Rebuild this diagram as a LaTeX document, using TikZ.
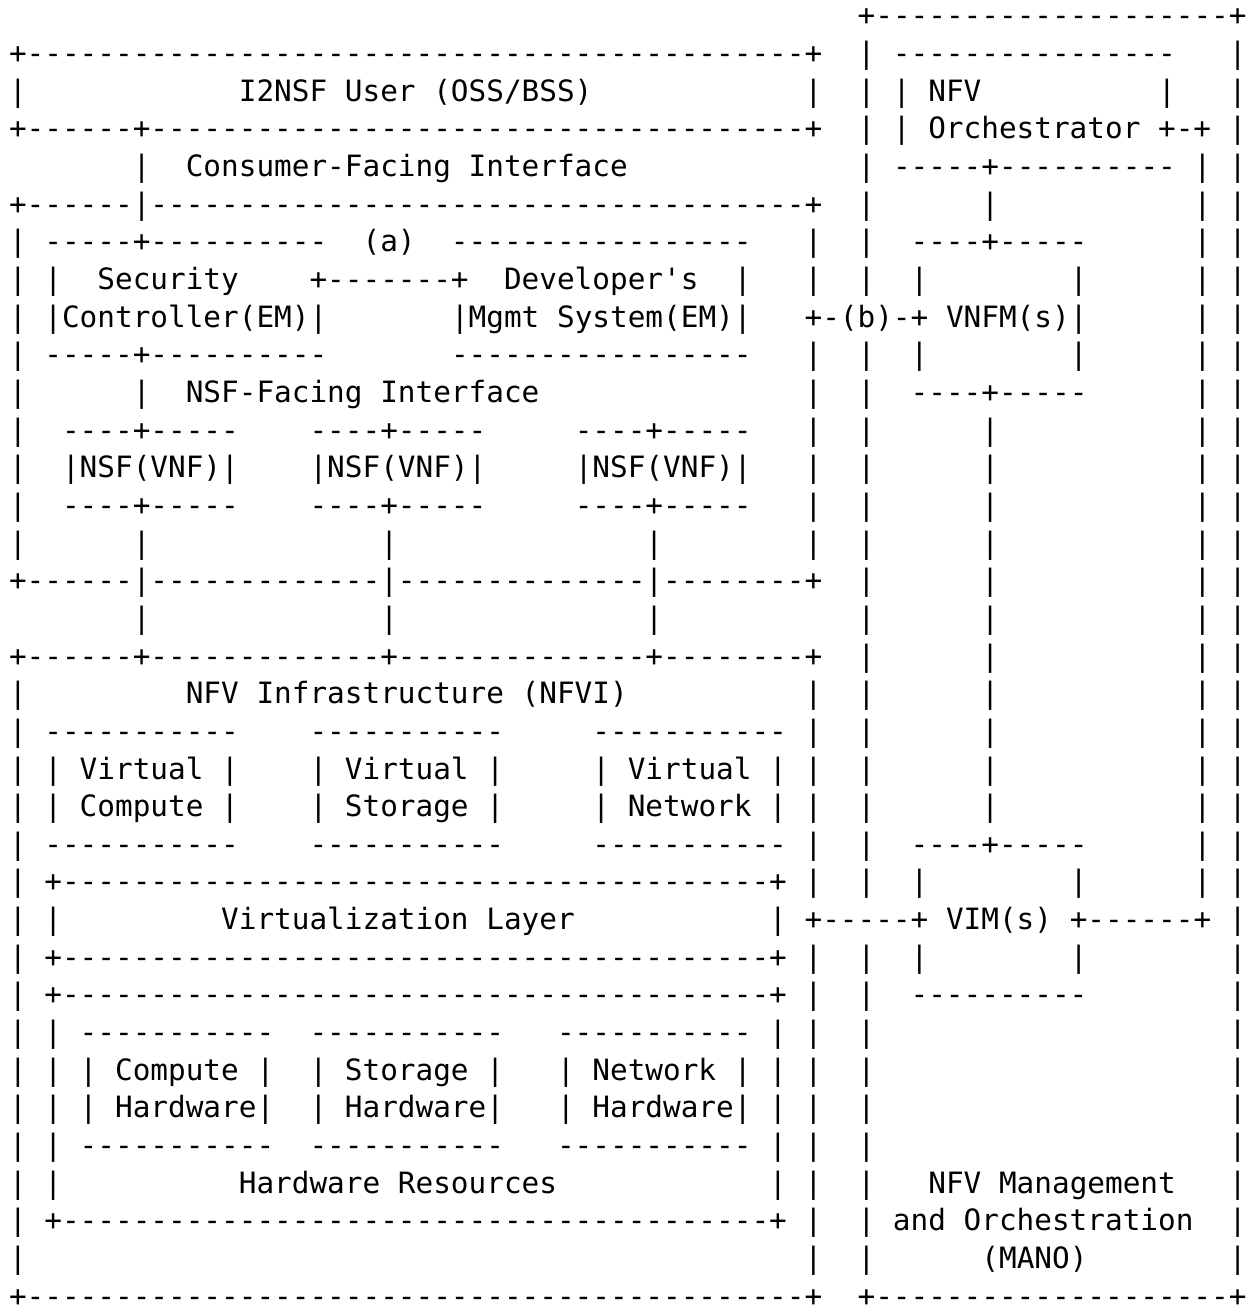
\documentclass[tikz,border=0pt]{standalone}
\usepackage{fontspec}
\setmonofont{DejaVu Sans Mono}
\tikzset{
  asciirow/.style={anchor=base west, inner sep=0pt, outer sep=0pt,
    font=\ttfamily\fontsize{17.62}{20}\selectfont}
}
% rows of the figure, spaces kept as typed
\begingroup
\obeyspaces%
\gdef\asciirows{%
{                                                +--------------------+},%
{+--------------------------------------------+  | ----------------   |},%
{|            I2NSF User (OSS/BSS)            |  | | NFV          |   |},%
{+------+-------------------------------------+  | | Orchestrator +-+ |},%
{       |  Consumer-Facing Interface             | -----+---------- | |},%
{+------|-------------------------------------+  |      |           | |},%
{| -----+----------  (a)  -----------------   |  |  ----+-----      | |},%
{| |  Security    +-------+  Developer's  |   |  |  |        |      | |},%
{| |Controller(EM)|       |Mgmt System(EM)|   +-(b)-+ VNFM(s)|      | |},%
{| -----+----------       -----------------   |  |  |        |      | |},%
{|      |  NSF-Facing Interface               |  |  ----+-----      | |},%
{|  ----+-----    ----+-----     ----+-----   |  |      |           | |},%
{|  |NSF(VNF)|    |NSF(VNF)|     |NSF(VNF)|   |  |      |           | |},%
{|  ----+-----    ----+-----     ----+-----   |  |      |           | |},%
{|      |             |              |        |  |      |           | |},%
{+------|-------------|--------------|--------+  |      |           | |},%
{       |             |              |           |      |           | |},%
{+------+-------------+--------------+--------+  |      |           | |},%
{|         NFV Infrastructure (NFVI)          |  |      |           | |},%
{| -----------    -----------     ----------- |  |      |           | |},%
{| | Virtual |    | Virtual |     | Virtual | |  |      |           | |},%
{| | Compute |    | Storage |     | Network | |  |      |           | |},%
{| -----------    -----------     ----------- |  |  ----+-----      | |},%
{| +----------------------------------------+ |  |  |        |      | |},%
{| |         Virtualization Layer           | +-----+ VIM(s) +------+ |},%
{| +----------------------------------------+ |  |  |        |        |},%
{| +----------------------------------------+ |  |  ----------        |},%
{| | -----------  -----------   ----------- | |  |                    |},%
{| | | Compute |  | Storage |   | Network | | |  |                    |},%
{| | | Hardware|  | Hardware|   | Hardware| | |  |                    |},%
{| | -----------  -----------   ----------- | |  |                    |},%
{| |          Hardware Resources            | |  |   NFV Management   |},%
{| +----------------------------------------+ |  | and Orchestration  |},%
{|                                            |  |      (MANO)        |},%
{+--------------------------------------------+  +--------------------+}}%
\endgroup

\begin{document}
\begin{tikzpicture}[x=0.6pt,y=-0.6pt]
  \useasboundingbox (0,0) rectangle (1254,1309);
  \foreach \txt [count=\r from 0] in \asciirows {
    \node[asciirow] (row\r) at (9,{26+37.65*\r}) {{}\txt}; %one text row
  }
\end{tikzpicture}
\end{document}
